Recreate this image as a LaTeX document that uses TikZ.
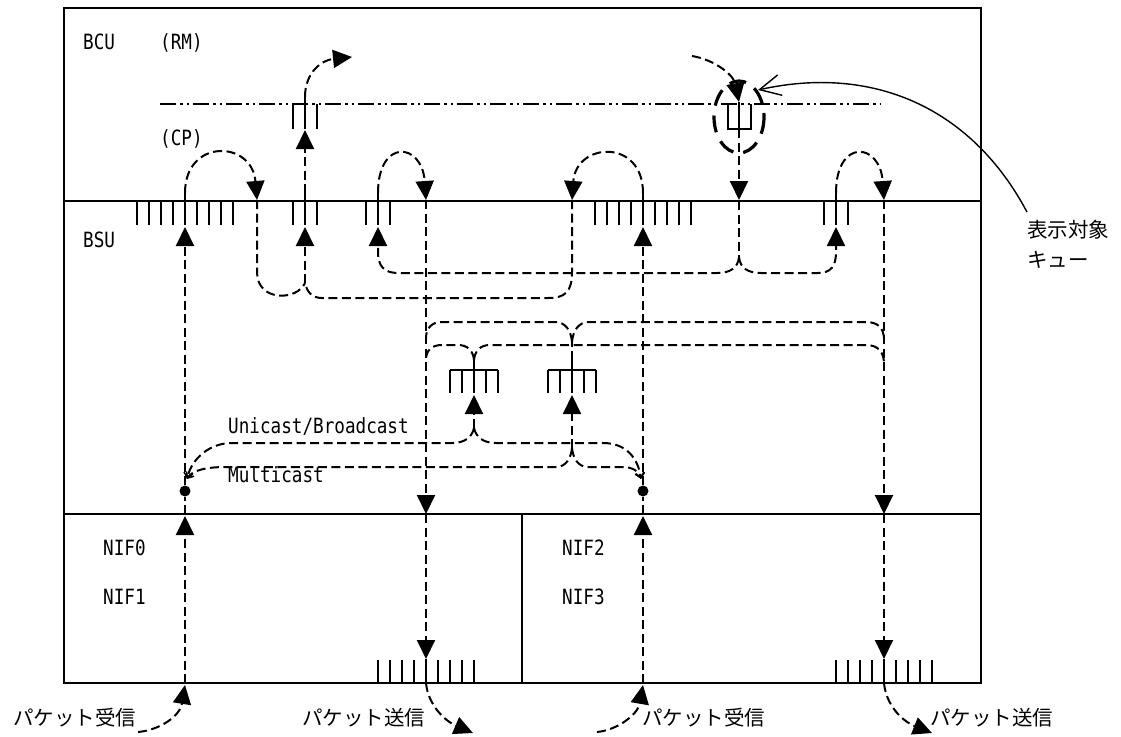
\documentclass[tikz,border=0pt]{standalone}
\usepackage{fontspec}
\usetikzlibrary{arrows.meta}
\newfontfamily\latf[FakeStretch=0.84]{DejaVu Sans Mono}
\newfontfamily\jpf{Noto Sans CJK JP}
\begin{document}
\begin{tikzpicture}[x=1pt,y=-1pt,
  frame/.style={line width=2pt},
  flow/.style={line width=2pt, dash pattern=on 9pt off 4.5pt},
  tip/.style={-{Triangle[length=19pt,width=18pt]}},
  barb/.style={-{Straight Barb[length=5pt,width=9pt,line width=1.5pt]}},
  tick/.style={line width=2pt},
  chain/.style={line width=1.8pt, dash pattern=on 16pt off 4pt on 2.5pt off 4pt on 2.5pt off 4pt},
  lat/.style={font=\latf\fontsize{21}{22}\selectfont, inner sep=0pt, anchor=base west},
  jp/.style={font=\jpf\fontsize{20.5}{21}\selectfont, inner sep=0pt, anchor=west},
  ring/.style={line width=3.2pt, dash pattern=on 17pt off 10pt},
  note/.style={line width=1.4pt, -{Straight Barb[length=21pt,width=21pt,line width=1.4pt]}},
  dotn/.style={circle, fill, inner sep=0pt, minimum size=11pt},
]
\useasboundingbox (0,0) rectangle (1121,736);

% ---------- frame ----------
\coordinate (TL) at (64,8);
\coordinate (BR) at (981,683);
\coordinate (L1a) at (64,201);  \coordinate (L1b) at (981,201);
\coordinate (L2a) at (64,514);  \coordinate (L2b) at (981,514);
\coordinate (Va) at (522,514);  \coordinate (Vb) at (522,683);
\coordinate (CHa) at (160,104); \coordinate (CHb) at (880,104);
\draw[frame] (TL) rectangle (BR);
\draw[frame] (L1a) -- (L1b);
\draw[frame] (L2a) -- (L2b);
\draw[frame] (Va) -- (Vb);
\draw[chain] (CHa) -- (CHb);

% ---------- queues ----------
% BSU queues hanging from y=201
\foreach \i in {0,...,8} \draw[tick] ({137+12*\i},201) -- ++(0,24);
\foreach \i in {0,...,8} \draw[tick] ({595+12*\i},201) -- ++(0,24);
\foreach \c in {305,378,836} {\draw[tick] (\c-12,201) -- ++(0,24); \draw[tick] (\c+12,201) -- ++(0,24);}
\foreach \c in {185,305,378,643,836} \draw[tick] (\c,193) -- (\c,225);
% RM queues
\draw[tick] (293,104) -- (293,129); \draw[tick] (317,104) -- (317,129);
\draw[tick] (305,97) -- (305,129);
\draw[tick] (728,104) -- (728,129) -- (751,129) -- (751,104);
\draw[tick] (739,102) -- (739,129);
% NIF send queues standing on y=683
\foreach \i in {0,...,8} \draw[tick] ({378+12*\i},683) -- ++(0,-23);
\foreach \i in {0,...,8} \draw[tick] ({836+12*\i},683) -- ++(0,-23);
\draw[tick] (426,659) -- (426,683);
\draw[tick] (884,659) -- (884,683);
% multicast queues
\foreach \c in {474,572} {
  \draw[tick] (\c-24,370) -- (\c+24,370);
  \foreach \d in {-24,-12,12,24} \draw[tick] (\c+\d,370) -- ++(0,23);
  \draw[tick] (\c,360) -- (\c,393);
}

% ---------- named points ----------
\coordinate (q1out) at (185,193);  \coordinate (q1in) at (185,227);
\coordinate (q2out) at (305,193);  \coordinate (q2in) at (305,227);
\coordinate (q3out) at (378,193);  \coordinate (q3in) at (378,227);
\coordinate (q4out) at (643,193);  \coordinate (q4in) at (643,227);
\coordinate (q5out) at (836,193);  \coordinate (q5in) at (836,227);
\coordinate (r2in) at (305,130);   \coordinate (r2out) at (305,97);
\coordinate (r2go) at (352,57);
\coordinate (r6src) at (692,56);   \coordinate (r6in) at (739,102);
\coordinate (r6out) at (739,129);
\coordinate (b257) at (257,200);   \coordinate (d426) at (426,200);
\coordinate (e572) at (572,200);   \coordinate (g739) at (739,200);
\coordinate (i884) at (884,200);
\coordinate (c305) at (305,283);   \coordinate (g739k) at (739,257);
\coordinate (d426m) at (426,514);  \coordinate (i884m) at (884,514);
\coordinate (d426b) at (426,659);  \coordinate (i884b) at (884,659);
\coordinate (d426e) at (426,683);  \coordinate (i884e) at (884,683);
\coordinate (sendA) at (473,733);  \coordinate (sendB) at (932,733);
\coordinate (rxA) at (138,732);    \coordinate (rxB) at (597,732);
\coordinate (nA) at (185,685);     \coordinate (nB) at (643,685);
\coordinate (nA0) at (185,683);    \coordinate (nB0) at (643,683);
\coordinate (mA) at (185,516);     \coordinate (mB) at (643,516);
\coordinate (mA0) at (185,514);    \coordinate (mB0) at (643,514);
\coordinate (jA) at (187,479);     \coordinate (jB) at (641,479);
\coordinate (m1low) at (474,428);  \coordinate (m1in) at (474,395);
\coordinate (m2low) at (572,448);  \coordinate (m2in) at (572,395);
\coordinate (m1top) at (474,360);  \coordinate (m2top) at (572,342);
\coordinate (m2tk) at (572,360);
\node[dotn] (dotA) at (185,491) {};
\node[dotn] (dotB) at (643,491) {};

% ---------- BCU arcs ----------
\draw[flow,tip] (q1out) .. controls +(0,-55) and +(-5,-60) .. (b257);
\draw[flow,tip] (q3out) .. controls +(0,-55) and +(-4,-58) .. (d426);
\draw[flow,tip] (q4out) .. controls +(0,-55) and +(4,-58) .. (e572);
\draw[flow,tip] (q5out) .. controls +(0,-55) and +(-4,-58) .. (i884);
\draw[flow,tip] (r2out) .. controls +(0,-25) and +(-30,3) .. (r2go);
\draw[flow,tip] (r6src) .. controls +(24,4) and +(-5,-26) .. (r6in);
\draw[flow,tip] (q2out) -- (r2in);
\draw[flow,tip] (r6out) -- (g739);

% ---------- BSU routing ----------
\draw[flow] (b257) -- (257,272) .. controls (257,302) and (297,301) .. (c305);
\draw[flow] (e572) -- (572,272) .. controls (572,292) and (565,298) .. (548,298) -- (322,298) .. controls (312,298) and (307,292) .. (c305);
\draw[flow,tip] (c305) -- (q2in);
\draw[flow] (739,201) -- (g739k);
\draw[flow,tip] (g739k) .. controls (738,268) and (730,273) .. (717,273) -- (398,273) .. controls (384,273) and (378,266) .. (378,252) -- (q3in);
\draw[flow,tip] (g739k) .. controls (740,268) and (748,273) .. (761,273) -- (818,273) .. controls (831,273) and (836,266) .. (836,252) -- (q5in);

% send columns
\draw[flow,tip] (d426) -- (d426m);
\draw[flow,tip] (d426m) -- (d426b);
\draw[flow,tip] (d426e) .. controls +(2,22) and +(-28,-12) .. (sendA);
\draw[flow,tip] (i884) -- (i884m);
\draw[flow,tip] (i884m) -- (i884b);
\draw[flow,tip] (i884e) .. controls +(2,22) and +(-30,-12) .. (sendB);

% receive columns
\draw[flow,tip] (rxA) .. controls +(22,-2) and +(-5,31) .. (nA);
\draw[flow,tip] (nA0) -- (mA);
\draw[flow] (mA0) -- (dotA);
\draw[flow,tip] (dotA) -- (q1in);
\draw[flow,tip] (rxB) .. controls +(21,-2) and +(-5,29) .. (nB);
\draw[flow,tip] (nB0) -- (mB);
\draw[flow] (mB0) -- (dotB);
\draw[flow,tip] (dotB) -- (q4in);

% ---------- multicast ----------
\draw[flow,tip] (m1low) -- (m1in);
\draw[flow,tip] (m2low) -- (m2in);
\draw[flow] (m2tk) -- (m2top);
\draw[flow,barb] (m1low) .. controls (472,437) and (465,443) .. (452,443) -- (232,443) .. controls (210,443) and (192,458) .. (jA);
\draw[flow,barb] (m1low) .. controls (476,437) and (483,443) .. (496,443) -- (603,443) .. controls (626,443) and (638,458) .. (jB);
\draw[flow,barb] (m2low) .. controls (571,458) and (566,467) .. (556,467) -- (226,467) .. controls (204,467) and (192,471) .. (jA);
\draw[flow,barb] (m2low) .. controls (573,458) and (578,467) .. (588,467) -- (622,467) .. controls (632,467) and (639,471) .. (jB);
\draw[flow] (m1top) .. controls (473,350) and (467,345) .. (458,345) -- (442,345) .. controls (432,345) and (426,350) .. (426,360);
\draw[flow] (m1top) .. controls (475,350) and (481,345) .. (490,345) -- (866,345) .. controls (878,345) and (884,352) .. (884,364);
\draw[flow] (m2top) .. controls (571,330) and (565,322) .. (555,322) -- (442,322) .. controls (432,322) and (426,328) .. (426,338);
\draw[flow] (m2top) .. controls (573,330) and (579,322) .. (589,322) -- (866,322) .. controls (878,322) and (884,328) .. (884,340);

% ---------- highlighted queue ----------
\draw[ring] (739,117) ellipse [x radius=25, y radius=36];

% ---------- texts ----------
\node[lat] (tBCU) at (83,49) {BCU};
\node[lat] (tRM) at (160,49) {(RM)};
\node[lat] (tCP) at (160,145) {(CP)};
\node[lat] (tBSU) at (83,247) {BSU};
\node[lat] (tN0) at (103,555) {NIF0};
\node[lat] (tN1) at (103,604) {NIF1};
\node[lat] (tN2) at (562,555) {NIF2};
\node[lat] (tN3) at (562,604) {NIF3};
\node[lat] (tUB) at (228,433) {Unicast/Broadcast};
\node[lat] (tMC) at (228,482) {Multicast};
\node[jp] (tR1) at (13,718) {パケット受信};
\node[jp] (tS1) at (302,718) {パケット送信};
\node[jp] (tR2) at (642,718) {パケット受信};
\node[jp] (tS2) at (930,718) {パケット送信};
\node[jp] (tQ1) at (1027,230) {表示対象};
\node[jp] (tQ2) at (1027,260) {キュー};
\coordinate (noteS) at (1027,212);
\coordinate (noteE) at (758,90);
\draw[note] (noteS) .. controls (970,105) and (870,65) .. (noteE);
\end{tikzpicture}
\end{document}
